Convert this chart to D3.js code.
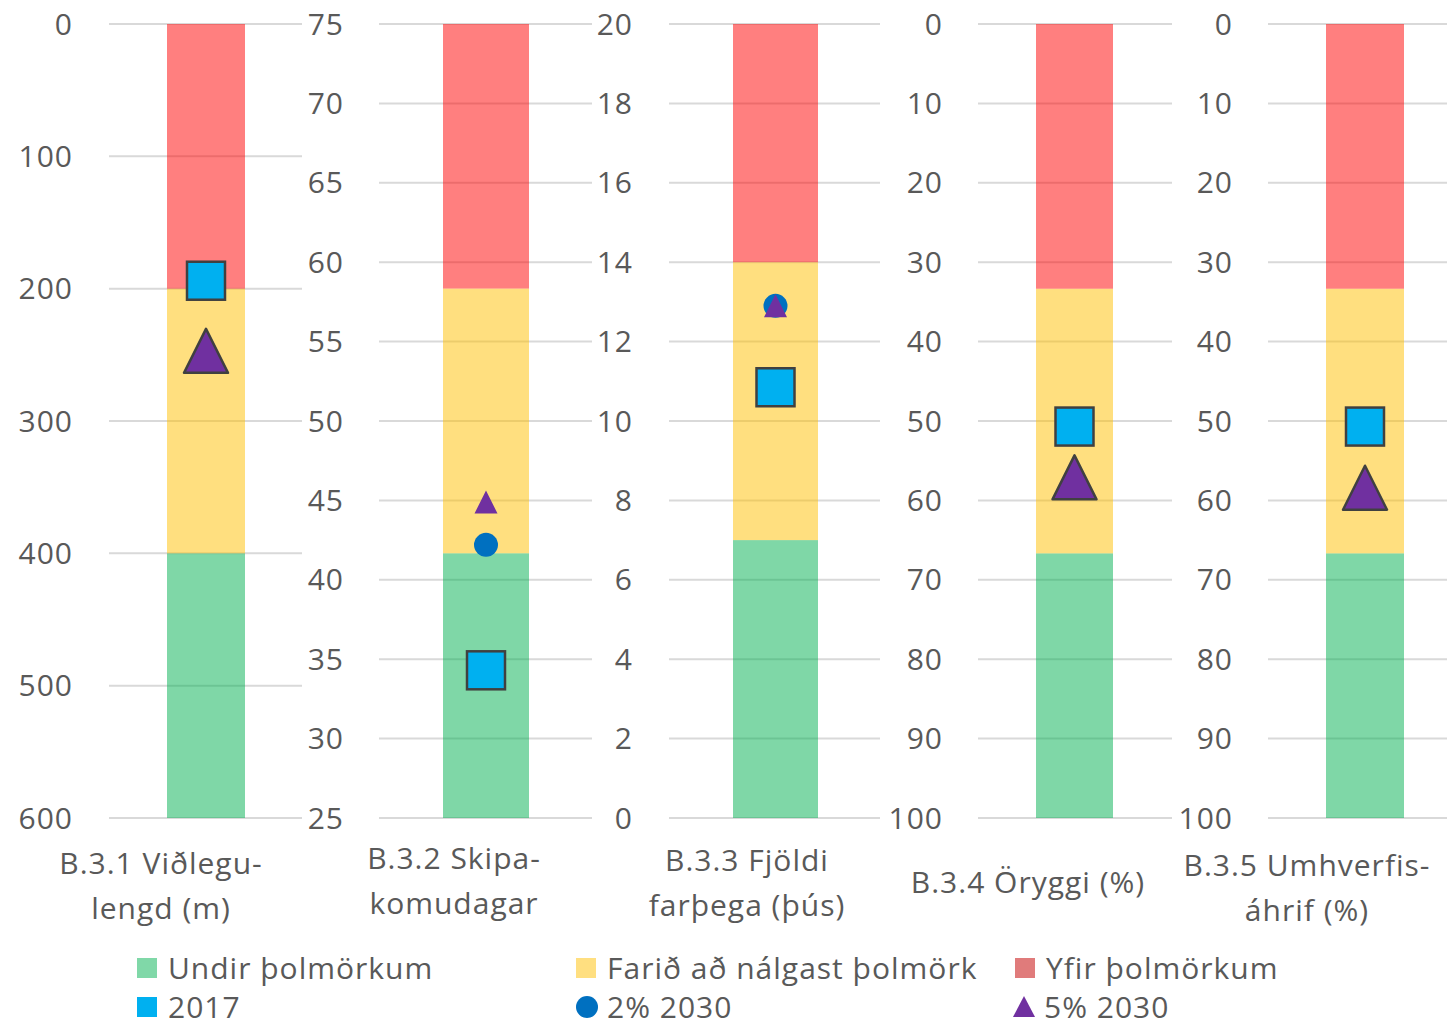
<!DOCTYPE html>
<html>
<head>
<meta charset="utf-8">
<script src="https://cdn.jsdelivr.net/npm/d3@7"></script>
<style>
  body { margin: 0; background: #fff; }
  svg text { font-family: "Open Sans", Lato, sans-serif; fill: #595959; letter-spacing: 1px; }
</style>
</head>
<body>
<div id="chart"></div>
<script>
// category labels (two lines where the original wraps)
const categories = [
    ['B.3.1 Viðlegu-', 'lengd (m)'],
    ['B.3.2 Skipa-', 'komudagar'],
    ['B.3.3 Fjöldi', 'farþega (þús)'],
    ['B.3.4 Öryggi (%)'],
    ['B.3.5 Umhverfis-', 'áhrif (%)'],
];

// each panel has its own value axis; top value / bottom value / tick step
const axisTop = [0, 75, 20, 0, 0];
const axisBottom = [600, 25, 0, 100, 100];
const tickStep = [100, 5, 2, 10, 10];

// band sizes, stacked from the bottom of each axis upward
const undirBand = [200, 16.67, 7, 33.33, 33.33];
const nalgastBand = [200, 16.67, 7, 33.33, 33.33];
const yfirBand = [200, 16.66, 6, 33.34, 33.34];

// point series
const values2017 = [194, 34.3, 10.85, 50.7, 50.7];
const values2pc2030 = [null, 42.2, 12.9, null, null];
const values5pc2030 = [247, 44.9, 12.9, 57.1, 58.4];

const legendLabels = ['Undir þolmörkum', 'Farið að nálgast þolmörk', 'Yfir þolmörkum', '2017', '2% 2030', '5% 2030'];

// layout
const W = 1447, H = 1028;
const plotTop = 24, plotBottom = 818;
const panels = [
    { tickRight: 73, gridL: 109, gridR: 302, barL: 167, barR: 245, labelX: 161, labelY: 886, triSize: 44 },
    { tickRight: 344, gridL: 379, gridR: 592, barL: 443, barR: 529, labelX: 454, labelY: 881, triSize: 23 },
    { tickRight: 633, gridL: 669, gridR: 880, barL: 733, barR: 818, labelX: 747, labelY: 883, triSize: 23 },
    { tickRight: 943, gridL: 978, gridR: 1172, barL: 1036, barR: 1113, labelX: 1028, labelY: 882, triSize: 44 },
    { tickRight: 1233, gridL: 1268, gridR: 1447, barL: 1326, barR: 1404, labelX: 1307, labelY: 888, triSize: 44 },
];
const bandColors = ['#00B050', '#FFC000', '#FF0000'];
const fontSize = 30;

const svg = d3.select('#chart').append('svg')
    .attr('width', W)
    .attr('height', H);

categories.forEach((cat, i) => {
    const p = panels[i];
    const y = d3.scaleLinear()
        .domain([axisTop[i], axisBottom[i]])
        .range([plotTop, plotBottom]);
    const g = svg.append('g');

    const ticks = d3.range(Math.min(axisTop[i], axisBottom[i]),
        Math.max(axisTop[i], axisBottom[i]) + tickStep[i] / 2, tickStep[i]);

    // gridlines
    g.selectAll('line.grid')
        .data(ticks)
        .enter()
        .append('line')
        .attr('x1', p.gridL)
        .attr('x2', p.gridR)
        .attr('y1', (d) => y(d))
        .attr('y2', (d) => y(d))
        .attr('stroke', '#D9D9D9')
        .attr('stroke-width', 2);

    // tick labels
    g.selectAll('text.tick')
        .data(ticks)
        .enter()
        .append('text')
        .attr('x', p.tickRight)
        .attr('y', (d) => y(d))
        .attr('dy', '0.35em')
        .attr('text-anchor', 'end')
        .style('font-size', fontSize + 'px')
        .text((d) => d3.format('d')(d));

    // stacked bands
    const dir = Math.sign(axisTop[i] - axisBottom[i]);
    const sizes = [undirBand[i], nalgastBand[i], yfirBand[i]];
    let start = axisBottom[i];
    const bands = sizes.map((s, k) => {
        const b = { from: start, to: start + dir * s, color: bandColors[k] };
        start = b.to;
        return b;
    });
    g.selectAll('rect.band')
        .data(bands)
        .enter()
        .append('rect')
        .attr('x', p.barL)
        .attr('width', p.barR - p.barL)
        .attr('y', (d) => Math.min(y(d.from), y(d.to)))
        .attr('height', (d) => Math.abs(y(d.from) - y(d.to)))
        .attr('fill', (d) => d.color)
        .attr('fill-opacity', 0.5);

    const cx = (p.barL + p.barR) / 2;

    // 2% 2030 circle
    if (values2pc2030[i] != null) {
        g.append('circle')
            .attr('cx', cx)
            .attr('cy', y(values2pc2030[i]))
            .attr('r', 12)
            .attr('fill', '#0070C0');
    }

    // 5% 2030 triangle
    if (values5pc2030[i] != null) {
        const s = p.triSize;
        const big = s > 30;
        const ty = y(values5pc2030[i]);
        g.append('path')
            .attr('d', `M${cx},${ty - s / 2} L${cx + s / 2},${ty + s / 2} L${cx - s / 2},${ty + s / 2} Z`)
            .attr('fill', '#7030A0')
            .attr('stroke', big ? '#404040' : 'none')
            .attr('stroke-width', 2.5)
            .attr('stroke-linejoin', 'round');
    }

    // 2017 square
    if (values2017[i] != null) {
        const sq = 38;
        g.append('rect')
            .attr('x', cx - sq / 2)
            .attr('y', y(values2017[i]) - sq / 2)
            .attr('width', sq)
            .attr('height', sq)
            .attr('fill', '#00B0F0')
            .attr('stroke', '#404040')
            .attr('stroke-width', 2.5);
    }

    // category label
    const lineH = 45;
    const label = g.append('text')
        .attr('text-anchor', 'middle')
        .style('font-size', fontSize + 'px');
    cat.forEach((line, k) => {
        label.append('tspan')
            .attr('x', p.labelX)
            .attr('y', p.labelY + (k - (cat.length - 1) / 2) * lineH)
            .attr('dy', '0.35em')
            .text(line);
    });
});

// legend
const legendPos = [
    { x: 137, y: 968 }, { x: 576, y: 968 }, { x: 1015, y: 968 },
    { x: 137, y: 1007 }, { x: 576, y: 1007 }, { x: 1013, y: 1007 },
];
const legendGroup = svg.append('g');
legendLabels.forEach((lbl, k) => {
    const pos = legendPos[k];
    const lg = legendGroup.append('g');
    if (k < 3) {
        const colors = ['#80D8A8', '#FFDF80', '#E07B7B'];
        lg.append('rect')
            .attr('x', pos.x).attr('y', pos.y - 10)
            .attr('width', 20).attr('height', 20)
            .attr('fill', colors[k]);
    } else if (k === 3) {
        lg.append('rect')
            .attr('x', pos.x).attr('y', pos.y - 10)
            .attr('width', 20).attr('height', 20)
            .attr('fill', '#00B0F0');
    } else if (k === 4) {
        lg.append('circle')
            .attr('cx', pos.x + 11).attr('cy', pos.y)
            .attr('r', 11)
            .attr('fill', '#0070C0');
    } else {
        lg.append('path')
            .attr('d', `M${pos.x + 11},${pos.y - 11} L${pos.x + 22},${pos.y + 10} L${pos.x},${pos.y + 10} Z`)
            .attr('fill', '#7030A0');
    }
    lg.append('text')
        .attr('x', pos.x + 31)
        .attr('y', pos.y)
        .attr('dy', '0.35em')
        .style('font-size', fontSize + 'px')
        .text(lbl);
});
</script>
</body>
</html>
